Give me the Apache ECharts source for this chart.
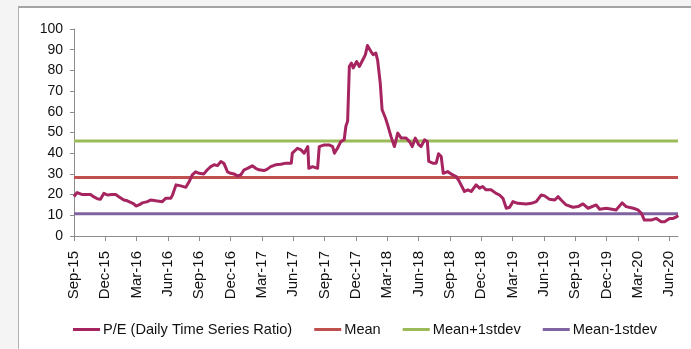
<!DOCTYPE html>
<html>
<head>
<meta charset="utf-8">
<script src="https://cdn.jsdelivr.net/npm/echarts@6/dist/echarts.min.js"></script>
<style>
  html, body { margin: 0; padding: 0; width: 691px; height: 349px; overflow: hidden; background: #f4f4f4; }
  #frame { position: absolute; left: 18px; top: 6px; width: 673px; height: 343px; background: #fff;
           border-top: 2px solid #a4a4a4; border-left: 1px solid #b0b0b0; box-sizing: border-box; }
  #chart { position: absolute; left: 0; top: 0; width: 691px; height: 349px; }
</style>
</head>
<body>
<div id="frame"></div>
<div id="chart"></div>
<script>
// Quarterly tick labels along the date axis
const tickLabels = ['Sep-15','Dec-15','Mar-16','Jun-16','Sep-16','Dec-16','Mar-17','Jun-17','Sep-17','Dec-17',
                    'Mar-18','Jun-18','Sep-18','Dec-18','Mar-19','Jun-19','Sep-19','Dec-19','Mar-20','Jun-20'];

// P/E observations (date, ratio)
const dates = [
  '2015-09-01','2015-09-10','2015-09-25','2015-10-19','2015-10-28','2015-11-08','2015-11-17','2015-11-27',
  '2015-12-07','2015-12-21','2016-01-01','2016-01-10','2016-01-25','2016-02-04','2016-02-13','2016-02-22',
  '2016-02-28','2016-03-08','2016-03-18','2016-04-02','2016-04-11','2016-04-26','2016-05-15','2016-05-25',
  '2016-06-09','2016-06-14','2016-06-24','2016-07-08','2016-07-23','2016-08-02','2016-08-11','2016-08-21',
  '2016-08-31','2016-09-14','2016-09-24','2016-10-04','2016-10-14','2016-10-24','2016-11-03','2016-11-12',
  '2016-11-22','2016-12-01','2016-12-11','2016-12-21','2016-12-31','2017-01-10','2017-01-20','2017-02-03',
  '2017-02-12','2017-02-21','2017-03-07','2017-03-17','2017-03-27','2017-04-10','2017-04-25','2017-05-10',
  '2017-05-26','2017-05-29','2017-06-13','2017-06-23','2017-07-02','2017-07-07','2017-07-13','2017-07-16',
  '2017-07-27','2017-08-11','2017-08-14','2017-08-16','2017-08-31','2017-09-14','2017-09-24','2017-09-29',
  '2017-10-08','2017-10-18','2017-10-28','2017-11-02','2017-11-07','2017-11-12','2017-11-18','2017-11-23',
  '2017-12-03','2017-12-11','2017-12-21','2017-12-29','2018-01-04','2018-01-14','2018-01-21','2018-01-29',
  '2018-02-03','2018-02-10','2018-02-15','2018-02-24','2018-03-02','2018-03-12','2018-03-22','2018-04-01',
  '2018-04-11','2018-04-25','2018-05-05','2018-05-13','2018-05-22','2018-06-01','2018-06-08','2018-06-18',
  '2018-06-26','2018-06-30','2018-07-12','2018-07-22','2018-07-29','2018-08-06','2018-08-12','2018-08-25',
  '2018-09-09','2018-09-19','2018-09-28','2018-10-13','2018-10-23','2018-11-02','2018-11-16','2018-11-26',
  '2018-12-05','2018-12-15','2018-12-30','2019-01-14','2019-01-24','2019-02-03','2019-02-12','2019-02-21',
  '2019-03-02','2019-03-16','2019-04-10','2019-04-25','2019-05-09','2019-05-24','2019-06-03','2019-06-17',
  '2019-07-02','2019-07-12','2019-07-21','2019-08-05','2019-08-25','2019-09-09','2019-09-23','2019-10-08',
  '2019-11-01','2019-11-11','2019-11-30','2019-12-29','2020-01-16','2020-01-28','2020-02-17','2020-03-01',
  '2020-03-11','2020-03-20','2020-04-09','2020-04-24','2020-05-08','2020-05-18','2020-06-02','2020-06-12',
  '2020-06-23','2020-06-26'
];
const peValues = [
  19, 21, 20, 20, 19, 18, 17.7, 20.6,
  19.8, 20, 20, 19, 17.4, 17, 16.3, 15.5,
  14.5, 15, 16, 16.6, 17.4, 17, 16.6, 18.2,
  18.2, 19.8, 24.7, 24.2, 23.5, 26.3, 29.5, 31,
  30.3, 30, 32, 33.5, 34.4, 34, 36, 35,
  31, 30.3, 30, 29, 29.5, 32, 32.7, 33.9,
  32.7, 32, 31.6, 32.3, 33.5, 34.4, 34.7, 35.2,
  35.2, 40, 42.4, 41.6, 40, 40.8, 43.2, 32.7,
  33.5, 32.7, 33, 43.2, 44, 44, 43.2, 40,
  42.4, 45.6, 46.5, 53, 55.5, 82, 83.5, 81.2,
  84.3, 81.9, 85, 87.6, 92, 89.2, 87.6, 88.4,
  85, 74, 61, 57, 53.7, 48, 43.2, 49.7,
  47.3, 47.3, 45.6, 43.2, 47.3, 44.2, 43.2, 46.5,
  45.6, 36, 35.2, 35.2, 39.7, 38.4, 30.3, 31.1,
  29.5, 28.7, 26.3, 21.5, 22.3, 21.5, 24.7, 23.1,
  23.9, 22.3, 22.3, 20.6, 19.8, 18.2, 13.4, 13.9,
  16.6, 15.8, 15.5, 15.8, 16.6, 19.8, 19.4, 17.7,
  17.4, 19, 17.4, 15, 13.9, 14.2, 15.5, 13.4,
  15, 12.9, 13.4, 12.6, 16, 14.2, 13.4, 12.6,
  11, 7.7, 7.7, 8.5, 6.9, 6.9, 8.5, 8.5,
  9.4, 10
];

// Summary statistics of the series
const meanValue = 28.3;
const meanPlusSd = 45.9;
const meanMinusSd = 10.7;

const axisStart = '2015-09-01';
const axisEnd = '2020-06-26';

// Convert a date string into months elapsed since the axis start
function monthsSinceStart(s) {
  const [y, m, d] = s.split('-').map(Number);
  const [y0, m0] = axisStart.split('-').map(Number);
  const daysInMonth = new Date(y, m, 0).getDate();
  return (y - y0) * 12 + (m - m0) + (d - 1) / daysInMonth;
}

const xMax = monthsSinceStart(axisEnd);
const tickValues = tickLabels.map((_, i) => i * 3);
const peSeries = dates.map((d, i) => [monthsSinceStart(d), peValues[i]]);
const flat = v => [[0, v], [xMax, v]];

const font = "'Liberation Sans', Arial, sans-serif";
const axisGray = '#8c8c8c';

const chart = echarts.init(document.getElementById('chart'), null, { renderer: 'canvas' });
chart.setOption({
  animation: false,
  backgroundColor: 'transparent',
  grid: { left: 74, right: 13, top: 29, bottom: 113 },
  legend: {
    left: 73, top: 322, padding: 0,
    itemWidth: 27, itemHeight: 3, itemGap: 22,
    icon: 'rect',
    textStyle: { fontFamily: font, fontSize: 14.6, color: '#111', padding: [0, 0, 0, -2] },
    data: ['P/E (Daily Time Series Ratio)', 'Mean', 'Mean+1stdev', 'Mean-1stdev']
  },
  xAxis: {
    type: 'value', min: 0, max: xMax, interval: 3,
    splitLine: { show: false },
    axisLine: { show: true, onZero: false, lineStyle: { color: axisGray, width: 1 } },
    axisTick: { show: true, length: 5, customValues: tickValues, lineStyle: { color: axisGray } },
    axisLabel: {
      rotate: 90, margin: 15, customValues: tickValues,
      fontFamily: font, fontSize: 15, color: '#111',
      formatter: v => tickLabels[Math.round(v / 3)] || ''
    }
  },
  yAxis: {
    type: 'value', min: 0, max: 100, interval: 10,
    splitLine: { show: false },
    axisLine: { show: true, lineStyle: { color: axisGray, width: 1 } },
    axisTick: { show: true, length: 4, lineStyle: { color: axisGray } },
    axisLabel: { margin: 11, fontFamily: font, fontSize: 14, color: '#111' }
  },
  series: [
    { name: 'Mean', type: 'line', data: flat(meanValue), showSymbol: false, z: 2,
      lineStyle: { color: '#C0504D', width: 3 }, itemStyle: { color: '#C0504D' } },
    { name: 'Mean+1stdev', type: 'line', data: flat(meanPlusSd), showSymbol: false, z: 2,
      lineStyle: { color: '#9BBB59', width: 3 }, itemStyle: { color: '#9BBB59' } },
    { name: 'Mean-1stdev', type: 'line', data: flat(meanMinusSd), showSymbol: false, z: 2,
      lineStyle: { color: '#8064A2', width: 3 }, itemStyle: { color: '#8064A2' } },
    { name: 'P/E (Daily Time Series Ratio)', type: 'line', data: peSeries, showSymbol: false, z: 3,
      lineStyle: { color: '#A6245F', width: 3, join: 'round' }, itemStyle: { color: '#A6245F' } }
  ]
});
</script>
</body>
</html>
